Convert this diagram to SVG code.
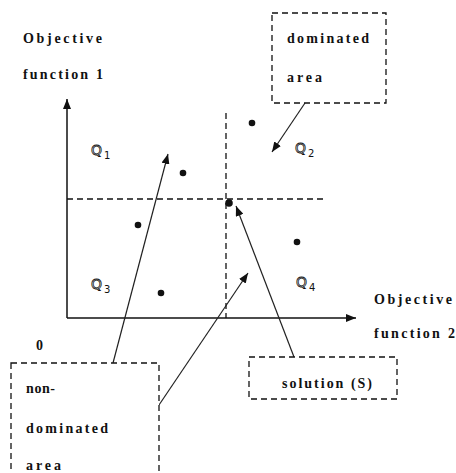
<svg xmlns="http://www.w3.org/2000/svg" width="456" height="473" viewBox="0 0 456 473">
<style>
.t{font-family:"Liberation Serif","DejaVu Serif",serif;font-size:14px;font-weight:bold;fill:#111}
.q{font-family:"DejaVu Sans","Liberation Sans",sans-serif;font-size:14px;fill:#fff;stroke:#111;stroke-width:0.8}
.qs{font-family:"DejaVu Sans","Liberation Sans",sans-serif;font-size:10px;fill:#111}
.ax{stroke:#111;stroke-width:1.5;fill:none}
.dl{stroke:#111;stroke-width:1.3;stroke-dasharray:6,4;fill:none}
.box{stroke:#111;stroke-width:1.3;stroke-dasharray:6,4;fill:#fff}
.ar{stroke:#222;stroke-width:1.2;fill:none}
.dot{fill:#111}
</style>
<defs>
<marker id="ah" markerWidth="10" markerHeight="8" refX="10" refY="4" orient="auto" markerUnits="userSpaceOnUse">
<path d="M0,0 L10,4 L0,8 Z" fill="#111"/>
</marker>
</defs>
<rect width="456" height="473" fill="#fff"/>
<g id="axes">
<line class="ax" x1="67" y1="318" x2="67" y2="99" marker-end="url(#ah)"/>
<line class="ax" x1="67" y1="318" x2="356" y2="318" marker-end="url(#ah)"/>
<line class="dl" x1="67" y1="199" x2="323" y2="199"/>
<line class="dl" x1="226" y1="113" x2="226" y2="318"/>
</g>
<g id="labels">
<text class="t" x="23" y="43" textLength="79" lengthAdjust="spacing">Objective</text>
<text class="t" x="23" y="79" textLength="80" lengthAdjust="spacing">function 1</text>
<text class="t" x="374" y="304" textLength="78" lengthAdjust="spacing">Objective</text>
<text class="t" x="374" y="338" textLength="81" lengthAdjust="spacing">function 2</text>
<text class="t" x="36" y="350">0</text>
</g>
<g id="quadrants">
<text class="q" x="91" y="155">Q</text><text class="qs" x="104" y="159">1</text>
<text class="q" x="295" y="153">Q</text><text class="qs" x="308" y="157">2</text>
<text class="q" x="91" y="289">Q</text><text class="qs" x="104" y="293">3</text>
<text class="q" x="296" y="287">Q</text><text class="qs" x="309" y="291">4</text>
</g>
<g id="points">
<circle class="dot" cx="252" cy="123" r="3.3"/>
<circle class="dot" cx="183" cy="173" r="3.3"/>
<circle class="dot" cx="229" cy="203" r="3.8"/>
<circle class="dot" cx="138" cy="225" r="3.3"/>
<circle class="dot" cx="161" cy="293" r="3.3"/>
<circle class="dot" cx="297" cy="242" r="3.3"/>
</g>
<g id="connectors">
<line class="ar" x1="113" y1="363" x2="168" y2="154" marker-end="url(#ah)"/>
<line class="ar" x1="159" y1="405" x2="248" y2="273" marker-end="url(#ah)"/>
<line class="ar" x1="294" y1="357" x2="236" y2="206" marker-end="url(#ah)"/>
<line class="ar" x1="305" y1="103" x2="272" y2="152" marker-end="url(#ah)"/>
</g>
<g id="dominated-box">
<rect class="box" x="272" y="13" width="114" height="90"/>
<text class="t" x="287" y="43" textLength="82" lengthAdjust="spacing">dominated</text>
<text class="t" x="287" y="82" textLength="35" lengthAdjust="spacing">area</text>
</g>
<g id="nondominated-box">
<rect class="box" x="11" y="363" width="148" height="130"/>
<text class="t" x="26" y="393" textLength="29" lengthAdjust="spacing">non-</text>
<text class="t" x="26" y="433" textLength="82" lengthAdjust="spacing">dominated</text>
<text class="t" x="26" y="470" textLength="35" lengthAdjust="spacing">area</text>
</g>
<g id="solution-box">
<rect class="box" x="249" y="357" width="148" height="42"/>
<text class="t" x="282" y="388" textLength="90" lengthAdjust="spacing">solution (S)</text>
</g>
</svg>
